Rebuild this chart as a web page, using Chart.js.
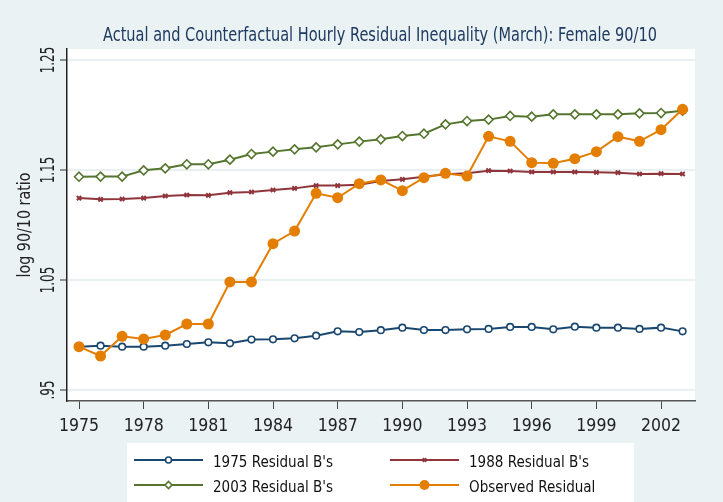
<!DOCTYPE html>
<html>
<head>
<meta charset="utf-8">
<title>Actual and Counterfactual Hourly Residual Inequality (March): Female 90/10</title>
<script src="https://cdn.jsdelivr.net/npm/chart.js@4.4.1/dist/chart.umd.min.js"></script>
<style>
  html, body { margin: 0; padding: 0; background: #eaf2f3; }
  #wrap { width: 723px; height: 502px; }
</style>
</head>
<body>
<div id="wrap"><canvas id="chart" width="723" height="502"></canvas></div>
<script>
// data
const years = [1975, 1976, 1977, 1978, 1979, 1980, 1981, 1982, 1983, 1984, 1985, 1986, 1987, 1988, 1989,
               1990, 1991, 1992, 1993, 1994, 1995, 1996, 1997, 1998, 1999, 2000, 2001, 2002, 2003];

const resid1975 = [0.9894, 0.9903, 0.9894, 0.9894, 0.9903, 0.9918, 0.9933, 0.9924, 0.9958, 0.9961, 0.9970, 0.9994, 1.0033, 1.0027, 1.0044,
                   1.0067, 1.0045, 1.0045, 1.0052, 1.0055, 1.0073, 1.0073, 1.0052, 1.0076, 1.0067, 1.0067, 1.0055, 1.0067, 1.0033];
const resid1988 = [1.1245, 1.1233, 1.1236, 1.1245, 1.1264, 1.1273, 1.1270, 1.1294, 1.1300, 1.1318, 1.1333, 1.1358, 1.1358, 1.1367, 1.1400,
                   1.1415, 1.1439, 1.1461, 1.1470, 1.1494, 1.1491, 1.1482, 1.1482, 1.1482, 1.1479, 1.1476, 1.1464, 1.1467, 1.1464];
const resid2003 = [1.1439, 1.1440, 1.1440, 1.1497, 1.1515, 1.1552, 1.1552, 1.1594, 1.1645, 1.1667, 1.1688, 1.1706, 1.1733, 1.1758, 1.1779,
                   1.1809, 1.1830, 1.1915, 1.1945, 1.1958, 1.1991, 1.1985, 1.2006, 1.2006, 1.2006, 1.2006, 1.2015, 1.2018, 1.2039];
const observed  = [0.9894, 0.9809, 0.9988, 0.9964, 1.0000, 1.0100, 1.0100, 1.0482, 1.0482, 1.0830, 1.0945, 1.1288, 1.1248, 1.1376, 1.1410,
                   1.1312, 1.1430, 1.1470, 1.1445, 1.1806, 1.1761, 1.1567, 1.1561, 1.1603, 1.1667, 1.1803, 1.1761, 1.1867, 1.2052];

const xTicks = [1975, 1978, 1981, 1984, 1987, 1990, 1993, 1996, 1999, 2002];
const yTicks = [0.95, 1.05, 1.15, 1.25];
const yTickLabels = ['.95', '1.05', '1.15', '1.25'];

const seriesLabels = ["1975 Residual B's", "1988 Residual B's", "2003 Residual B's", 'Observed Residual'];
const titleText = 'Actual and Counterfactual Hourly Residual Inequality (March): Female 90/10';
const yTitle = 'log 90/10 ratio';

// look
const FONT = "'Liberation Sans Narrow', 'Arial Narrow', 'DejaVu Sans Condensed', sans-serif";
const BG = '#eaf2f3';
const BLUE = '#1a476f', RED = '#90353b', GREEN = '#55752f', ORANGE = '#e37e00';

const toPoints = arr => arr.map((v, i) => ({ x: years[i], y: v }));

// squeeze text sideways so it keeps the tall, narrow look of the original
function narrowText(ctx, text, x, y, size, k, align) {
    ctx.font = size + 'px ' + FONT;
    ctx.save();
    ctx.translate(x, y);
    ctx.scale(k, 1);
    ctx.textAlign = align;
    ctx.fillText(text, 0, 0);
    ctx.restore();
}

function squeeze(ctx, text, size, width) {
    ctx.font = size + 'px ' + FONT;
    return width / ctx.measureText(text).width;
}

const decor = {
    id: 'decor',
    beforeDraw(chart) {
        const { ctx, chartArea: a } = chart;
        ctx.save();
        ctx.fillStyle = BG;
        ctx.fillRect(0, 0, chart.width, chart.height);
        ctx.fillStyle = '#ffffff';
        ctx.fillRect(a.left, a.top, a.right - a.left, a.bottom - a.top);
        ctx.restore();
    },
    afterDraw(chart) {
        const ctx = chart.ctx;
        const yScale = chart.scales.y;
        const a = chart.chartArea;
        ctx.save();
        ctx.textBaseline = 'alphabetic';

        // title
        ctx.fillStyle = '#1f3a60';
        narrowText(ctx, titleText, 103, 41, 19, squeeze(ctx, titleText, 19, 554), 'left');

        // y tick labels, turned on their side
        ctx.fillStyle = '#222';
        const kTick = squeeze(ctx, '1.25', 19, 26.5);
        yTicks.forEach((v, i) => {
            ctx.save();
            ctx.translate(53.5, yScale.getPixelForValue(v));
            ctx.rotate(-Math.PI / 2);
            narrowText(ctx, yTickLabels[i], 0, 0, 19, kTick, 'center');
            ctx.restore();
        });

        // y axis title
        ctx.save();
        ctx.translate(29.5, (a.top + a.bottom) / 2);
        ctx.rotate(-Math.PI / 2);
        narrowText(ctx, yTitle, 0, 0, 18, squeeze(ctx, yTitle, 18, 105), 'center');
        ctx.restore();

        // legend box
        ctx.fillStyle = '#ffffff';
        ctx.fillRect(127, 443, 507, 59);

        const cols = [134, 390];
        const rows = [460, 485];
        const legendRadius = [3, 2.5, 3.5, 5];
        const kLeg = squeeze(ctx, seriesLabels[0], 16, 120);
        chart.data.datasets.forEach((ds, i) => {
            const x = cols[i % 2];
            const y = rows[Math.floor(i / 2)];
            ctx.strokeStyle = ds.borderColor;
            ctx.lineWidth = 2;
            ctx.beginPath();
            ctx.moveTo(x, y);
            ctx.lineTo(x + 69, y);
            ctx.stroke();

            ctx.fillStyle = ds.pointBackgroundColor;
            ctx.strokeStyle = ds.borderColor;
            ctx.lineWidth = ds.pointBorderWidth;
            Chart.helpers.drawPoint(ctx, {
                pointStyle: ds.pointStyle,
                radius: legendRadius[i],
                borderWidth: ds.pointBorderWidth,
                rotation: 0
            }, x + 34.5, y);

            ctx.fillStyle = '#111';
            narrowText(ctx, ds.label, x + 79, y + 6.5, 16, kLeg, 'left');
        });

        ctx.restore();
    }
};

new Chart(document.getElementById('chart'), {
    type: 'line',
    data: {
        datasets: [
            {
                label: seriesLabels[0], data: toPoints(resid1975), order: 3,
                borderColor: BLUE, borderWidth: 2, pointStyle: 'circle', pointRadius: 3.3,
                pointBackgroundColor: '#ffffff', pointBorderColor: BLUE, pointBorderWidth: 1.6
            },
            {
                label: seriesLabels[1], data: toPoints(resid1988), order: 2,
                borderColor: RED, borderWidth: 2, pointStyle: 'crossRot', pointRadius: 3,
                pointBackgroundColor: RED, pointBorderColor: RED, pointBorderWidth: 2
            },
            {
                label: seriesLabels[2], data: toPoints(resid2003), order: 1,
                borderColor: GREEN, borderWidth: 2, pointStyle: 'rectRot', pointRadius: 4.5,
                pointBackgroundColor: '#ffffff', pointBorderColor: GREEN, pointBorderWidth: 1.6
            },
            {
                label: seriesLabels[3], data: toPoints(observed), order: 0,
                borderColor: ORANGE, borderWidth: 2, pointStyle: 'circle', pointRadius: 5.5,
                pointBackgroundColor: ORANGE, pointBorderColor: ORANGE, pointBorderWidth: 0
            }
        ]
    },
    options: {
        responsive: false,
        animation: false,
        layout: { padding: { top: 49, left: 0, right: 28, bottom: 61 } },
        plugins: { legend: { display: false }, tooltip: { enabled: false } },
        elements: { line: { tension: 0 } },
        scales: {
            x: {
                type: 'linear',
                min: 1974.443,
                max: 2003.575,
                afterBuildTicks: s => { s.ticks = xTicks.map(v => ({ value: v })); },
                afterFit: s => { s.height = 40; },
                grid: { drawOnChartArea: false, tickLength: 8, tickColor: '#444', tickWidth: 1 },
                border: { color: '#555', width: 1.5 },
                ticks: {
                    font: { family: FONT, size: 17.5 },
                    color: '#222',
                    padding: 7,
                    maxRotation: 0,
                    autoSkip: false,
                    callback: v => String(v)
                }
            },
            y: {
                min: 0.94,
                max: 1.26,
                afterBuildTicks: s => { s.ticks = yTicks.map(v => ({ value: v })); },
                afterFit: s => { s.width = 67; },
                grid: { color: '#e8f0f2', lineWidth: 2, tickLength: 7, tickColor: '#333', tickWidth: 1 },
                border: { color: '#222', width: 1.5 },
                ticks: { display: false }
            }
        }
    },
    plugins: [decor]
});
</script>
</body>
</html>
